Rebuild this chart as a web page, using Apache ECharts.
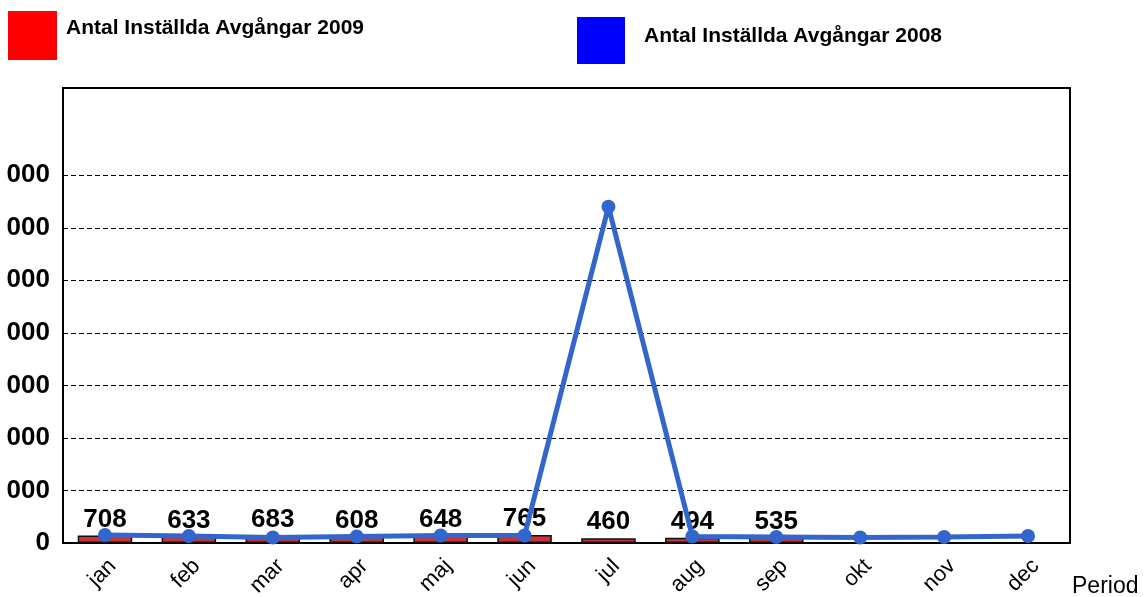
<!DOCTYPE html>
<html>
<head>
<meta charset="utf-8">
<script src="https://cdn.jsdelivr.net/npm/echarts@6/dist/echarts.min.js"></script>
<style>html,body{margin:0;padding:0;background:#fff;}#c{width:1145px;height:597px;}</style>
</head>
<body>
<div id="c"></div>
<script>
const months = ['jan','feb','mar','apr','maj','jun','jul','aug','sep','okt','nov','dec'];
const cancelled2009 = [708, 633, 683, 608, 648, 765, 460, 494, 535, null, null, null];
const cancelled2008 = [760, 670, 520, 620, 710, 710, 32000, 620, 570, 520, 570, 670];
const seriesNames = ['Antal Inställda Avgångar 2009', 'Antal Inställda Avgångar 2008'];
const xAxisTitle = 'Period';

const FONT = '"Liberation Sans", Arial, sans-serif';
const chart = echarts.init(document.getElementById('c'));
chart.setOption({
  animation: false,
  backgroundColor: '#fff',
  textStyle: { fontFamily: FONT },
  title: {
    text: xAxisTitle, left: 1072, top: 575, padding: 0,
    textStyle: { fontSize: 23, fontWeight: 'normal', color: '#000', fontFamily: FONT }
  },
  legend: [
    {
      left: 8, top: 11, padding: 0, itemWidth: 49, itemHeight: 49,
      data: [{ name: seriesNames[0], icon: 'rect', itemStyle: { color: '#ff0000', borderWidth: 0 } }],
      formatter: n => n + '\n',
      textStyle: { fontSize: 21, lineHeight: 14, fontWeight: 'bold', color: '#000', fontFamily: FONT, padding: [0, 0, 0, 4] }
    },
    {
      left: 577, top: 17, padding: 0, itemWidth: 48, itemHeight: 47,
      data: [{ name: seriesNames[1], icon: 'rect', itemStyle: { color: '#0000ff', borderWidth: 0 } }],
      formatter: n => n + '\n',
      textStyle: { fontSize: 21, lineHeight: 8, fontWeight: 'bold', color: '#000', fontFamily: FONT, padding: [0, 0, 0, 14] }
    }
  ],
  grid: {
    left: 63, right: 75, top: 88, bottom: 54, outerBoundsMode: 'none', containLabel: false,
    show: true, borderColor: '#000', borderWidth: 2, backgroundColor: 'transparent'
  },
  xAxis: {
    type: 'category', data: months, boundaryGap: true,
    axisLine: { lineStyle: { color: '#000', width: 2 } },
    axisTick: { show: false },
    axisLabel: { rotate: 45, fontSize: 22, color: '#000', fontFamily: FONT, margin: 12, verticalAlign: 'top' }
  },
  yAxis: {
    type: 'value', min: 0, max: 43300, interval: 5000,
    axisLine: { show: true, lineStyle: { color: '#000', width: 2 } },
    axisTick: { show: false },
    axisLabel: {
      fontSize: 26, fontWeight: 'bold', color: '#000', fontFamily: FONT, margin: 13,
      formatter: v => v > 35000 ? '' : (v === 0 ? '0' : (v / 1000) + ' 000')
    },
    splitLine: {
      show: true,
      lineStyle: {
        color: ['#000', '#000', '#000', '#000', '#000', '#000', '#000', '#000', 'rgba(0,0,0,0)', 'rgba(0,0,0,0)'],
        width: 1.2, type: [5, 3]
      }
    }
  },
  series: [
    {
      name: seriesNames[0], type: 'bar', data: cancelled2009, barWidth: '65%',
      itemStyle: { color: '#cc3333', borderColor: '#111', borderWidth: 1.5 },
      label: { show: true, position: 'top', distance: 3, fontSize: 26, fontWeight: 'bold', color: '#000', fontFamily: FONT }
    },
    {
      name: seriesNames[1], type: 'line', data: cancelled2008,
      symbol: 'circle', symbolSize: 14,
      lineStyle: { color: '#3366cc', width: 5 },
      itemStyle: { color: '#3366cc' }
    }
  ]
});
</script>
</body>
</html>
